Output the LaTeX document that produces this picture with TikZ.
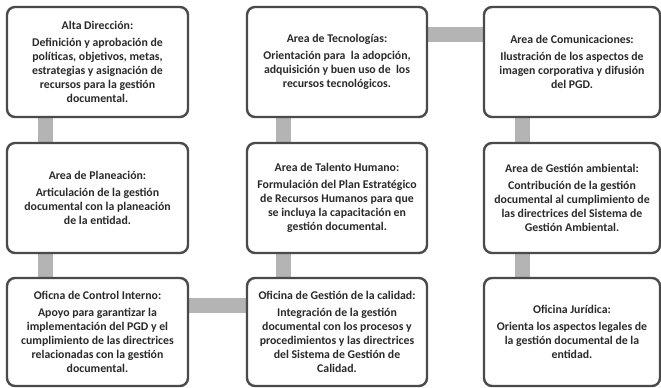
\documentclass[tikz,border=0pt]{standalone}
\usepackage{fontspec}
\setmainfont{Carlito}
\usetikzlibrary{backgrounds}
\definecolor{boxline}{HTML}{4A4A4A}
\definecolor{bar}{HTML}{B4B4B4}
\definecolor{txt}{HTML}{2A2A2A}
\tikzset{
  card/.style={draw=boxline, line width=2.4pt, rounded corners=8pt, fill=white,
    minimum width=#1, minimum height=110pt, align=center, text=txt,
    font=\bfseries\fontsize{11.8}{14}\selectfont, inner sep=1pt},
  card/.default=180pt,
  link/.style={draw=bar, line width=15pt}
}
\newcommand{\ttl}[1]{#1\\[3.5pt]}
\begin{document}
\begin{tikzpicture}[x=1pt,y=-1pt]
\useasboundingbox (0,0) rectangle (661,388);
\node[card=181pt] (b1) at (97.5,62) {\ttl{Alta Dirección:}Definición y aprobación de\\políticas, objetivos, metas,\\estrategias y asignación de\\recursos para la gestión\\documental.};
\node[card=180pt] (b2) at (337,62) {\ttl{Area de Tecnologías:}Orientación para \ la adopción,\\adquisición y buen uso de \ los\\recursos tecnológicos.};
\node[card=176pt] (b3) at (572,62) {\ttl{Area de Comunicaciones:}Ilustración de los aspectos de\\imagen corporativa y difusión\\del PGD.};
\node[card=181pt] (b4) at (97.5,198) {\ttl{Area de Planeación:}Articulación de la gestión\\documental con la planeación\\de la entidad.};
\node[card=180pt] (b5) at (337,198) {\ttl{Area de Talento Humano:}Formulación del Plan Estratégico\\de Recursos Humanos para que\\se incluya la capacitación en\\gestión documental.};
\node[card=176pt] (b6) at (572,198) {\ttl{Area de Gestión ambiental:}Contribución de la gestión\\documental al cumplimiento de\\las directrices del Sistema de\\Gestión Ambiental.};
\node[card=181pt, minimum height=108pt] (b7) at (97.5,332) {\ttl{Oficna de Control Interno:}Apoyo para garantizar la\\implementación del PGD y el\\cumplimiento de las directrices\\relacionadas con la gestión\\documental.};
\node[card=180pt, minimum height=108pt] (b8) at (337,332) {\ttl{Oficina de Gestión de la calidad:}Integración de la gestión\\documental con los procesos y\\procedimientos y las directrices\\del Sistema de Gestión de\\Calidad.};
\node[card=176pt, minimum height=108pt] (b9) at (572,332) {\ttl{Oficina Jurídica:}Orienta los aspectos legales de\\la gestión documental de la\\entidad.};
\begin{scope}[on background layer]
\draw[link] ([xshift=-52.5pt]b1.south) -- ([xshift=-52.5pt]b4.north);
\draw[link] ([xshift=-52.5pt]b4.south) -- ([xshift=-52.5pt]b7.north);
\draw[link] ([yshift=27pt]b7.east) -- ([yshift=27pt]b8.west);
\draw[link] ([xshift=-54pt]b8.north) -- ([xshift=-54pt]b5.south);
\draw[link] ([xshift=-54pt]b5.north) -- ([xshift=-54pt]b2.south);
\draw[link] ([yshift=28pt]b2.east) -- ([yshift=28pt]b3.west);
\draw[link] ([xshift=-50pt]b3.south) -- ([xshift=-50pt]b6.north);
\draw[link] ([xshift=-50pt]b6.south) -- ([xshift=-50pt]b9.north);
\end{scope}
\end{tikzpicture}
\end{document}
